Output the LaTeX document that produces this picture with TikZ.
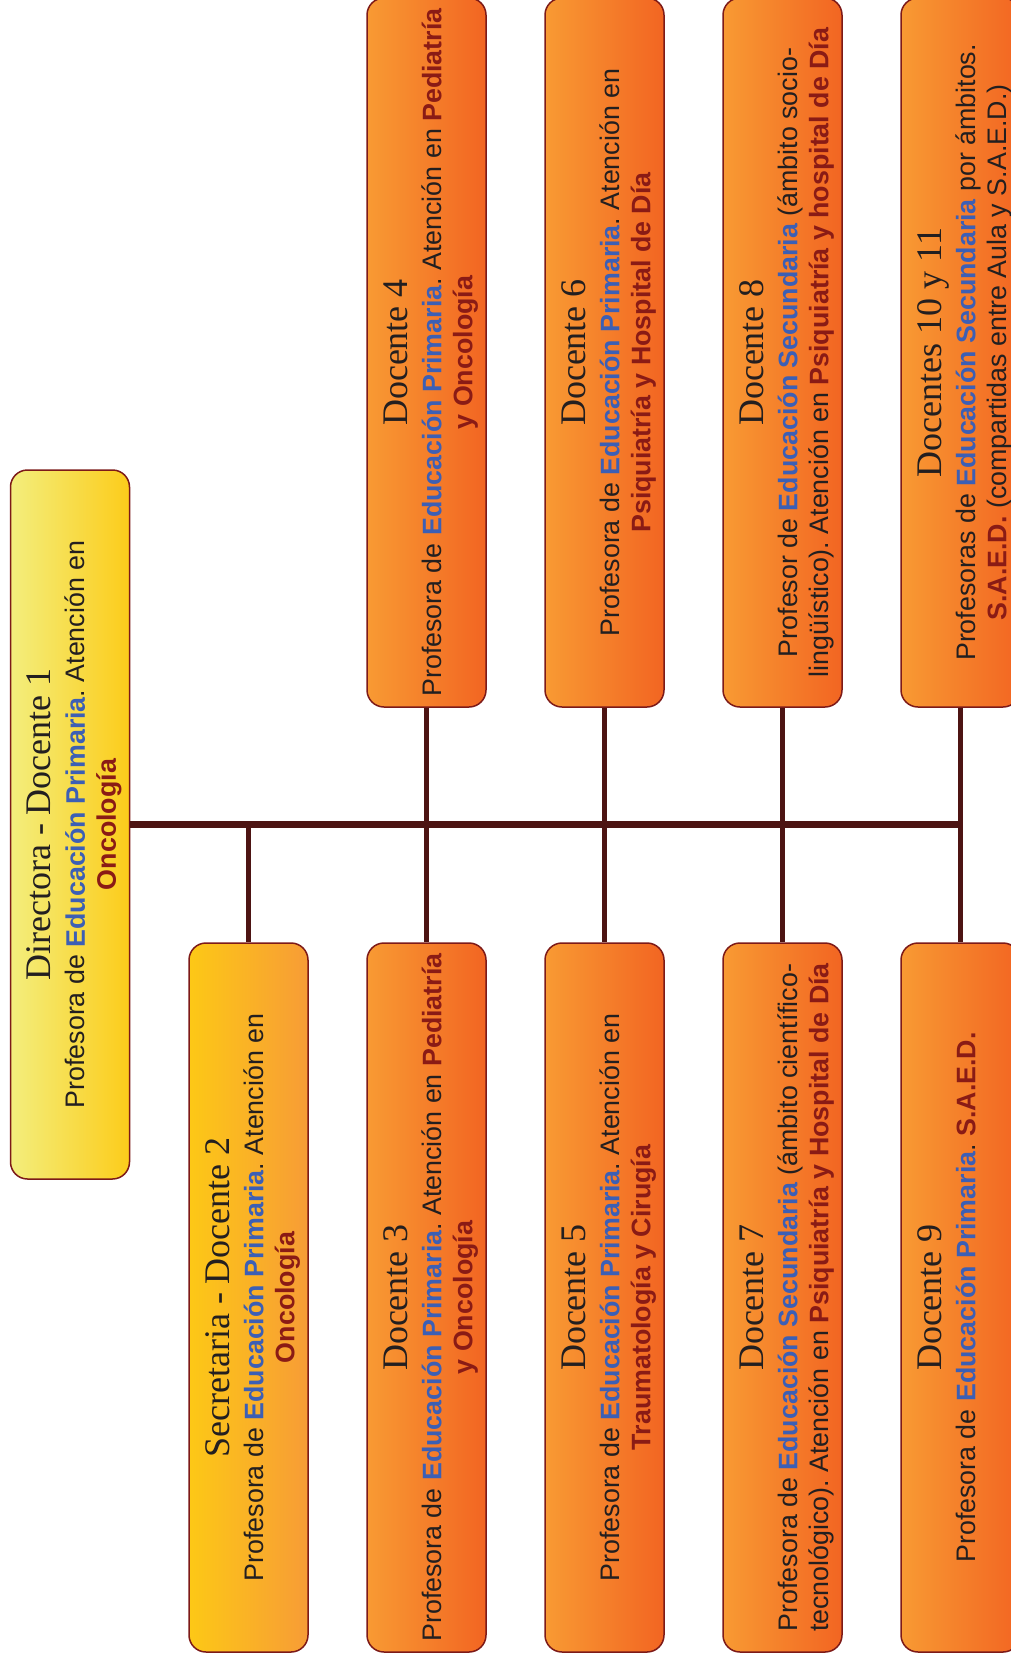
\documentclass[tikz,border=0pt]{standalone}
\usepackage{fontspec}
\setmainfont{Liberation Sans}
\newfontfamily\titlefont{Liberation Serif}
\usetikzlibrary{calc}
\frenchspacing
\definecolor{dirL}{HTML}{F3EE7D}
\definecolor{dirR}{HTML}{FCCC1A}
\definecolor{secL}{HTML}{FDC816}
\definecolor{secR}{HTML}{F79C36}
\definecolor{orL}{HTML}{F89A33}
\definecolor{orR}{HTML}{F26522}
\definecolor{boxborder}{HTML}{7D1A18}
\definecolor{linkcol}{HTML}{4D1413}
\definecolor{eduBlue}{HTML}{3C5FB5}
\definecolor{specRed}{HTML}{8A1B15}
\definecolor{textdark}{HTML}{231F20}
\newcommand{\myblue}[1]{\textbf{\color{eduBlue}#1}}
\newcommand{\myred}[1]{\textbf{\color{specRed}#1}}
\begin{document}
\begin{tikzpicture}[x=1pt,y=-1pt,
  box/.style={draw=boxborder, line width=1.5pt, rounded corners=17pt,
    minimum width=119pt, minimum height=709pt, inner sep=0pt},
  dirbox/.style={box, left color=dirL, right color=dirR},
  secbox/.style={box, left color=secL, right color=secR},
  orbox/.style={box, left color=orL, right color=orR},
  titlestyle/.style={rotate=90, inner sep=0pt, anchor=base,
    font=\titlefont\fontsize{36}{40}\selectfont, text=textdark},
  bodystyle/.style={rotate=90, inner sep=0pt, anchor=north, align=center,
    font=\fontsize{26.8}{31}\selectfont\frenchspacing, text=textdark},
  barline/.style={draw=linkcol, line width=7pt},
  vline/.style={draw=linkcol, line width=5pt}]
\useasboundingbox (0,0) rectangle (1011,1664);
\clip (0,0) rectangle (1011,1664);
% boxes
\node[dirbox] (dir) at (70,824.5) {};
\node[secbox] (sec) at (248.5,1297.5) {};
\node[orbox] (d3) at (426.5,1297.5) {};
\node[orbox] (d4) at (426.5,352.5) {};
\node[orbox] (d5) at (604.5,1297.5) {};
\node[orbox] (d6) at (604.5,352.5) {};
\node[orbox] (d7) at (782.5,1297.5) {};
\node[orbox] (d8) at (782.5,352.5) {};
\node[orbox] (d9) at (960.5,1297.5) {};
\node[orbox] (d10) at (960.5,352.5) {};
% connectors
\coordinate (barend) at ($(dir.east -| d9.north)+(2.5,0)$);
\draw[barline] (dir.east) -- (barend);
\draw[vline] (dir.east -| sec.north) -- (sec.north);
\draw[vline] (d4.south) -- (d3.north);
\draw[vline] (d6.south) -- (d5.north);
\draw[vline] (d8.south) -- (d7.north);
\draw[vline] (d10.south) -- (d9.north);
% texts
\node[titlestyle] (t1) at ($(dir.west)+(41,0)$) {Directora - Docente 1};
\node[bodystyle] (b1) at ($(dir.west)+(53.3,0)$) {\strut Profesora de \myblue{Educación Primaria}. Atención en\\ \myred{Oncología}};
\node[titlestyle] (t2) at ($(sec.west)+(41,0)$) {Secretaria - Docente 2};
\node[bodystyle] (b2) at ($(sec.west)+(53.3,0)$) {\strut Profesora de \myblue{Educación Primaria}. Atención en\\ \myred{Oncología}};
\node[titlestyle] (t3) at ($(d3.west)+(41,0)$) {Docente 3};
\node[bodystyle] (b3) at ($(d3.west)+(53.3,0)$) {\strut Profesora de \myblue{Educación Primaria}. Atención en \myred{Pediatría}\\ \myred{y Oncología}};
\node[titlestyle] (t4) at ($(d4.west)+(41,0)$) {Docente 4};
\node[bodystyle] (b4) at ($(d4.west)+(53.3,0)$) {\strut Profesora de \myblue{Educación Primaria}. Atención en \myred{Pediatría}\\ \myred{y Oncología}};
\node[titlestyle] (t5) at ($(d5.west)+(41,0)$) {Docente 5};
\node[bodystyle] (b5) at ($(d5.west)+(53.3,0)$) {\strut Profesora de \myblue{Educación Primaria}. Atención en\\ \myred{Traumatología y Cirugía}};
\node[titlestyle] (t6) at ($(d6.west)+(41,0)$) {Docente 6};
\node[bodystyle] (b6) at ($(d6.west)+(53.3,0)$) {\strut Profesora de \myblue{Educación Primaria}. Atención en\\ \myred{Psiquiatría y Hospital de Día}};
\node[titlestyle] (t7) at ($(d7.west)+(41,0)$) {Docente 7};
\node[bodystyle] (b7) at ($(d7.west)+(53.3,0)$) {\strut Profesora de \myblue{Educación Secundaria} (ámbito científico-\\ tecnológico). Atención en \myred{Psiquiatría y Hospital de Día}};
\node[titlestyle] (t8) at ($(d8.west)+(41,0)$) {Docente 8};
\node[bodystyle] (b8) at ($(d8.west)+(53.3,0)$) {\strut Profesor de \myblue{Educación Secundaria} (ámbito socio-\\ lingüístico). Atención en \myred{Psiquiatría y hospital de Día}};
\node[titlestyle] (t9) at ($(d9.west)+(41,0)$) {Docente 9};
\node[bodystyle] (b9) at ($(d9.west)+(53.3,0)$) {\strut Profesora de \myblue{Educación Primaria}. \myred{S.A.E.D.}};
\node[titlestyle] (t10) at ($(d10.west)+(41,0)$) {Docentes 10 y 11};
\node[bodystyle] (b10) at ($(d10.west)+(53.3,0)$) {\strut Profesoras de \myblue{Educación Secundaria} por ámbitos.\\ \myred{S.A.E.D.} (compartidas entre Aula y S.A.E.D.)};
\end{tikzpicture}
\end{document}
